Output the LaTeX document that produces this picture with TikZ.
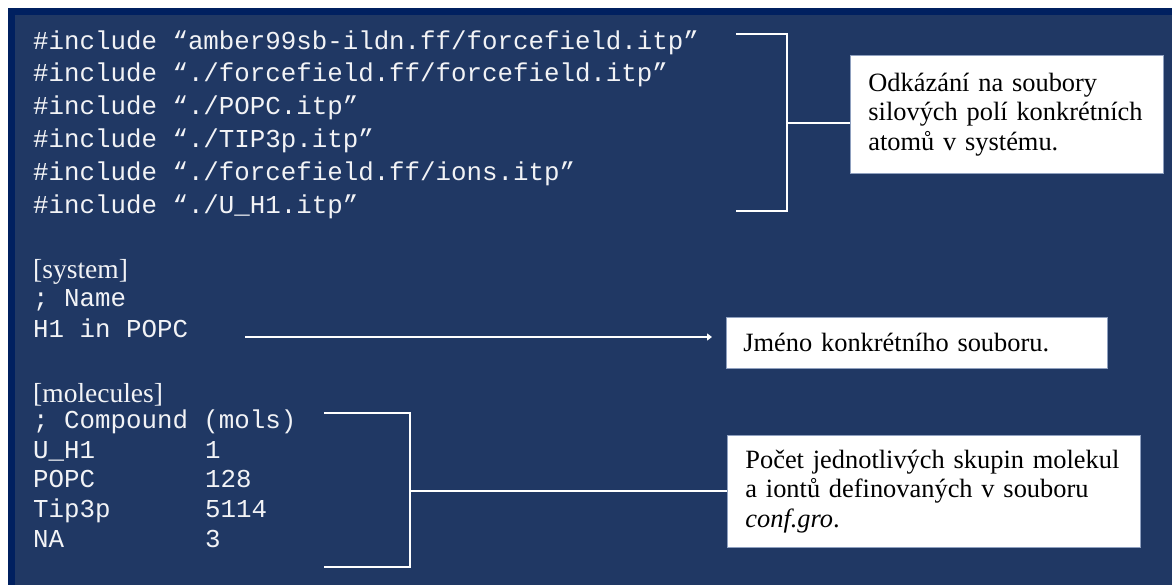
\documentclass[tikz,border=0pt]{standalone}
\usepackage{fontspec}
\setmainfont{Liberation Serif}
\newfontfamily\codefont{Liberation Mono}
\usetikzlibrary{arrows.meta}

\definecolor{panelblue}{HTML}{203864}
\definecolor{edgeblue}{HTML}{002060}
\definecolor{boxedge}{HTML}{8FA0BF}

\tikzset{
  code/.style={anchor=base west, inner sep=0pt, text=white!94!panelblue,
    font=\codefont\fontsize{25.8}{30}\selectfont},
  head/.style={anchor=base west, inner sep=0pt, text=white!94!panelblue,
    font=\fontsize{27.5}{30}\selectfont},
  bracket/.style={draw=white, line width=2.6pt},
  notebox/.style={draw=boxedge, line width=0.8pt, fill=white, anchor=north west,
    align=left, inner xsep=18pt, inner ysep=0pt,
    font=\fontsize{26.4}{29.5}\selectfont}
}

\begin{document}
\begin{tikzpicture}[x=1pt, y=-1pt, >=Stealth]
\useasboundingbox (0,0) rectangle (1172,585);

% Panel
\fill[white] (0,0) rectangle (1172,585);
\fill[edgeblue] (8,8) rectangle (1172,585);
\fill[panelblue] (15,15) rectangle (1172,585);

% Include lines
\node[code] (inc1) at (33,50)  {\#include “amber99sb-ildn.ff/forcefield.itp”};
\node[code] (inc2) at (33,82)  {\#include “./forcefield.ff/forcefield.itp”};
\node[code] (inc3) at (33,115) {\#include “./POPC.itp”};
\node[code] (inc4) at (33,148) {\#include “./TIP3p.itp”};
\node[code] (inc5) at (33,181) {\#include “./forcefield.ff/ions.itp”};
\node[code] (inc6) at (33,214) {\#include “./U\_H1.itp”};

% System section
\node[head] (syshead) at (33,279) {[system]};
\node[code] (syscomm) at (33,306) {; Name};
\node[code] (sysname) at (33,337) {H1 in POPC};

% Molecules section
\node[head] (molhead) at (33,402) {[molecules]};
\node[code] (molcomm) at (33,428) {; Compound (mols)};
\node[code] (mol1) at (33,458) {U\_H1};
\node[code] (mol2) at (33,487) {POPC};
\node[code] (mol3) at (33,517) {Tip3p};
\node[code] (mol4) at (33,547) {NA};
\node[code] (num1) at (205,458) {1};
\node[code] (num2) at (205,487) {128};
\node[code] (num3) at (205,517) {5114};
\node[code] (num4) at (205,547) {3};

% Note boxes
\node[notebox, text width=277pt, minimum height=118pt] (forcebox) at (850,55)
  {Odkázání na soubory\\ silových polí konkrétních\\ atomů v systému.};
\node[notebox, inner xsep=17pt, text width=347pt, minimum height=51pt] (namebox) at (726,317)
  {Jméno konkrétního souboru.};
\node[notebox, text width=377pt, minimum height=112pt] (countbox) at (727,435)
  {Počet jednotlivých skupin molekul\\ a iontů definovaných v souboru\\ \textit{conf.gro}.};

% Brackets and arrow
\coordinate (inctop) at (736,34);
\coordinate (incbot) at (736,211);
\coordinate (incmid) at (787,123);
\draw[bracket] (inctop) -- ++(51,0) |- (incbot);
\draw[bracket] (incmid) -- (incmid -| forcebox.west);

\coordinate (namestart) at (245,337);
\draw[bracket, -{Triangle[length=5pt,width=7pt]}, shorten >=14pt]
  (namestart) -- (namestart -| namebox.west);

\coordinate (moltop) at (324,413);
\coordinate (molbot) at (324,567);
\coordinate (molmid) at (410,491);
\draw[bracket] (moltop) -- ++(86,0) |- (molbot);
\draw[bracket] (molmid) -- (molmid -| countbox.west);

\end{tikzpicture}
\end{document}
